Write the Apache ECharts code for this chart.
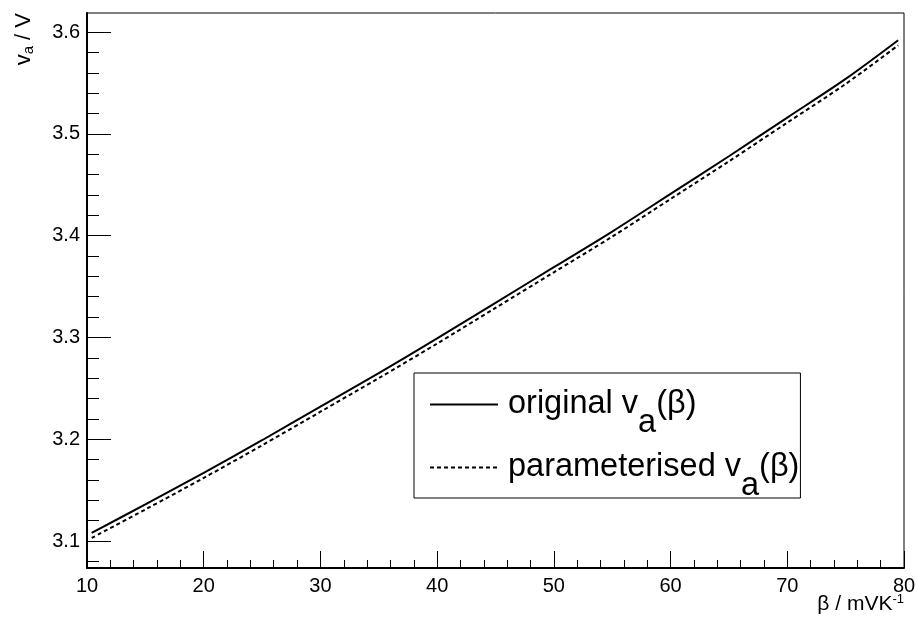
<!DOCTYPE html>
<html><head><meta charset="utf-8">
<script src="https://cdn.jsdelivr.net/npm/echarts@6/dist/echarts.min.js"></script>
<style>html,body{margin:0;padding:0;background:#fff}#c{width:916px;height:620px}</style>
</head><body><div id="c"></div>
<script>
// data
const betaValues = [10.4, 15, 20, 25, 30, 35, 40, 45, 50, 55, 60, 65, 70, 75, 79.5];
const originalVa = [3.108, 3.136, 3.167, 3.199, 3.232, 3.265, 3.299, 3.334, 3.369, 3.404, 3.441, 3.478, 3.516, 3.554, 3.592];
const parameterisedVa = [3.103, 3.131, 3.162, 3.194, 3.227, 3.260, 3.294, 3.329, 3.364, 3.399, 3.436, 3.473, 3.511, 3.549, 3.587];
const yMajorTicks = [3.1, 3.2, 3.3, 3.4, 3.5, 3.6];
const yMinorTicks = [3.08, 3.12, 3.14, 3.16, 3.18, 3.22, 3.24, 3.26, 3.28, 3.32, 3.34, 3.36, 3.38,
                     3.42, 3.44, 3.46, 3.48, 3.52, 3.54, 3.56, 3.58];
const xMin = 10, xMax = 80, xStep = 10;
const yMin = 3.0735, yMax = 3.6187;

const FONT = 'Liberation Sans';
const pairs = (xs, ys) => xs.map((x, i) => [x, ys[i]]);

const chart = echarts.init(document.getElementById('c'), null, {renderer: 'canvas'});
const legendRich = {
  g: {width: 5},
  t: {fontSize: 32.5, fontFamily: FONT, color: '#000', lineHeight: 34},
  s: {fontSize: 32.5, fontFamily: FONT, color: '#000', lineHeight: 20, padding: [38, 0, 0, 0]}
};
chart.setOption({
  animation: false,
  backgroundColor: '#fff',
  grid: {left: 87, right: 12, top: 13, bottom: 52, containLabel: false, outerBoundsMode: 'none',
    show: true, borderColor: '#000', borderWidth: 1, backgroundColor: 'transparent'},
  xAxis: {
    type: 'value', min: xMin, max: xMax, interval: xStep,
    axisLine: {show: true, lineStyle: {color: '#000', width: 2}},
    axisTick: {show: true, inside: true, length: 17, lineStyle: {color: '#000', width: 1}},
    minorTick: {show: true, splitNumber: 5, length: 8, lineStyle: {color: '#000', width: 1}},
    splitLine: {show: false},
    axisLabel: {color: '#000', fontFamily: FONT, fontSize: 20, margin: 8},
    name: '{n|β / mVK}{sup|-1}',
    nameLocation: 'end', nameGap: 0, nameMoveOverlap: false,
    nameTextStyle: {align: 'right', verticalAlign: 'top', padding: [26, 0, 0, 0],
      rich: {n: {fontSize: 21, fontFamily: FONT, color: '#000', lineHeight: 21},
             sup: {fontSize: 13, fontFamily: FONT, color: '#000', lineHeight: 13, padding: [0, 0, 11, 0]}}}
  },
  yAxis: [{
    type: 'value', min: yMin, max: yMax,
    axisLine: {show: true, lineStyle: {color: '#000', width: 2}},
    axisTick: {show: true, inside: true, length: 24, customValues: yMajorTicks, lineStyle: {color: '#000', width: 1}},
    splitLine: {show: false},
    axisLabel: {color: '#000', fontFamily: FONT, fontSize: 20, margin: 7, customValues: yMajorTicks,
      formatter: v => v.toFixed(1)},
    name: '{n|v}{s|a}{n| / V}',
    nameLocation: 'end', nameGap: 0, nameRotate: 90, nameMoveOverlap: false,
    nameTextStyle: {align: 'right', verticalAlign: 'bottom', padding: [0, 0, 52, 0],
      rich: {n: {fontSize: 22, fontFamily: FONT, color: '#000', lineHeight: 22},
             s: {fontSize: 15, fontFamily: FONT, color: '#000', lineHeight: 15, padding: [10, 0, 0, 0]}}}
  }, {
    type: 'value', min: yMin, max: yMax, position: 'left',
    axisLine: {show: false},
    axisTick: {show: true, inside: true, length: 12, customValues: yMinorTicks, lineStyle: {color: '#000', width: 1}},
    axisLabel: {show: false},
    splitLine: {show: false}
  }],
  legend: {
    left: 414, top: 373, orient: 'vertical',
    padding: [-4, 1, -5, 15], itemGap: -8,
    itemWidth: 68, itemHeight: 2,
    itemStyle: {opacity: 0},
    borderColor: '#000', borderWidth: 1, backgroundColor: '#fff', borderRadius: 0,
    data: ['original', 'parameterised'],
    formatter: name => name === 'original'
      ? '{g|}{t|original v}{s|a}{t|(β)}'
      : '{g|}{t|parameterised v}{s|a}{t|(β)}',
    textStyle: {rich: legendRich}
  },
  series: [{
    name: 'original', type: 'line', symbol: 'none', showSymbol: false, smooth: 0.3,
    data: pairs(betaValues, originalVa),
    lineStyle: {color: '#000', width: 2, type: 'solid'}, itemStyle: {color: '#000'}
  }, {
    name: 'parameterised', type: 'line', symbol: 'none', showSymbol: false, smooth: 0.3,
    data: pairs(betaValues, parameterisedVa),
    lineStyle: {color: '#000', width: 2, type: [4, 3]}, itemStyle: {color: '#000'}
  }]
});
</script></body></html>
